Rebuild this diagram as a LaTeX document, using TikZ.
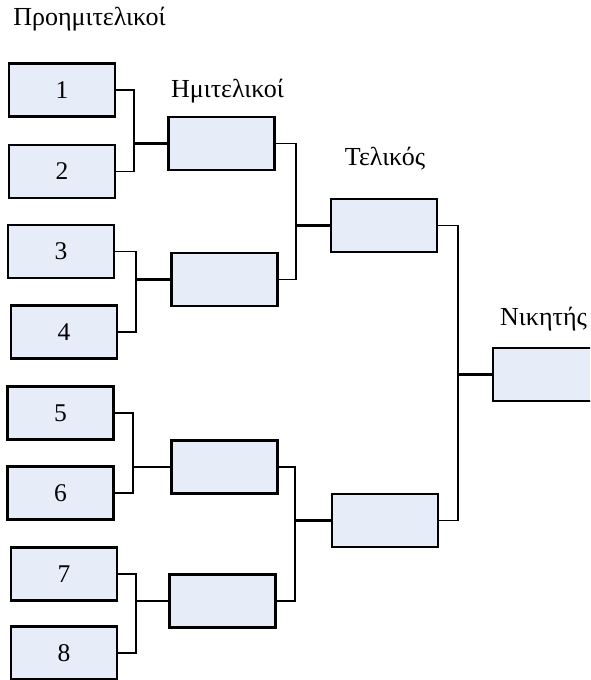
\documentclass[tikz,border=0pt]{standalone}
\usepackage{fontspec}
\setmainfont{Liberation Serif}
\definecolor{boxfill}{HTML}{E6EDF8}
\begin{document}
\begin{tikzpicture}[x=1pt,y=-1pt,
  slot/.style={draw=black,fill=boxfill,line width=2.2pt,minimum width=106pt,minimum height=53pt,inner sep=0pt,font=\fontsize{25.5}{26}\selectfont},
  wire/.style={line width=1.8pt},
  trunk/.style={line width=2.6pt},
  lab/.style={font=\fontsize{26}{26}\selectfont,inner sep=0pt,anchor=base}]
\useasboundingbox (0,0) rectangle (590,680);
\clip (0,0) rectangle (590,680);
\node[slot] (q1) at (62,90) {1};
\node[slot] (q2) at (62,171.5) {2};
\node[slot] (q3) at (61,251.5) {3};
\node[slot] (q4) at (64,332) {4};
\node[slot] (q5) at (60.5,413) {5};
\node[slot] (q6) at (60.5,493) {6};
\node[slot] (q7) at (64,574) {7};
\node[slot] (q8) at (64,653) {8};
\node[slot] (s1) at (221.5,143.5) {};
\node[slot] (s2) at (224.5,279.5) {};
\node[slot] (s3) at (224.5,467) {};
\node[slot] (s4) at (222.5,601) {};
\node[slot] (f1) at (384,225.5) {};
\node[slot] (f2) at (385,520.5) {};
\node[slot] (w) at (546,374.5) {};
\coordinate (j1) at (134,143.5);
\coordinate (j2) at (136,279.5);
\coordinate (j3) at (133,467);
\coordinate (j4) at (136,601);
\coordinate (k1) at (296,225.5);
\coordinate (k2) at (295,520.5);
\coordinate (m) at (458,374.5);
\draw[wire] (q1.east) -| (j1) |- (q2.east);
\draw[wire] (q3.east) -| (j2) |- (q4.east);
\draw[wire] (q5.east) -| (j3) |- (q6.east);
\draw[wire] (q7.east) -| (j4) |- (q8.east);
\draw[wire] (s1.east) -| (k1) |- (s2.east);
\draw[wire] (s3.east) -| (k2) |- (s4.east);
\draw[wire] (f1.east) -| (m) |- (f2.east);
\draw[trunk] (j1) -- (s1.west);
\draw[trunk] (j2) -- (s2.west);
\draw[trunk] (j3) -- (s3.west);
\draw[trunk] (j4) -- (s4.west);
\draw[trunk] (k1) -- (f1.west);
\draw[trunk] (k2) -- (f2.west);
\draw[trunk] (m) -- (w.west);
\node[lab] (t0) at (89.5,25) {Προημιτελικοί};
\node[lab] (t1) at (227.5,97) {Ημιτελικοί};
\node[lab] (t2) at (385,165) {Τελικός};
\node[lab,anchor=base west] (t3) at (500,325) {Νικητής};
\end{tikzpicture}
\end{document}
